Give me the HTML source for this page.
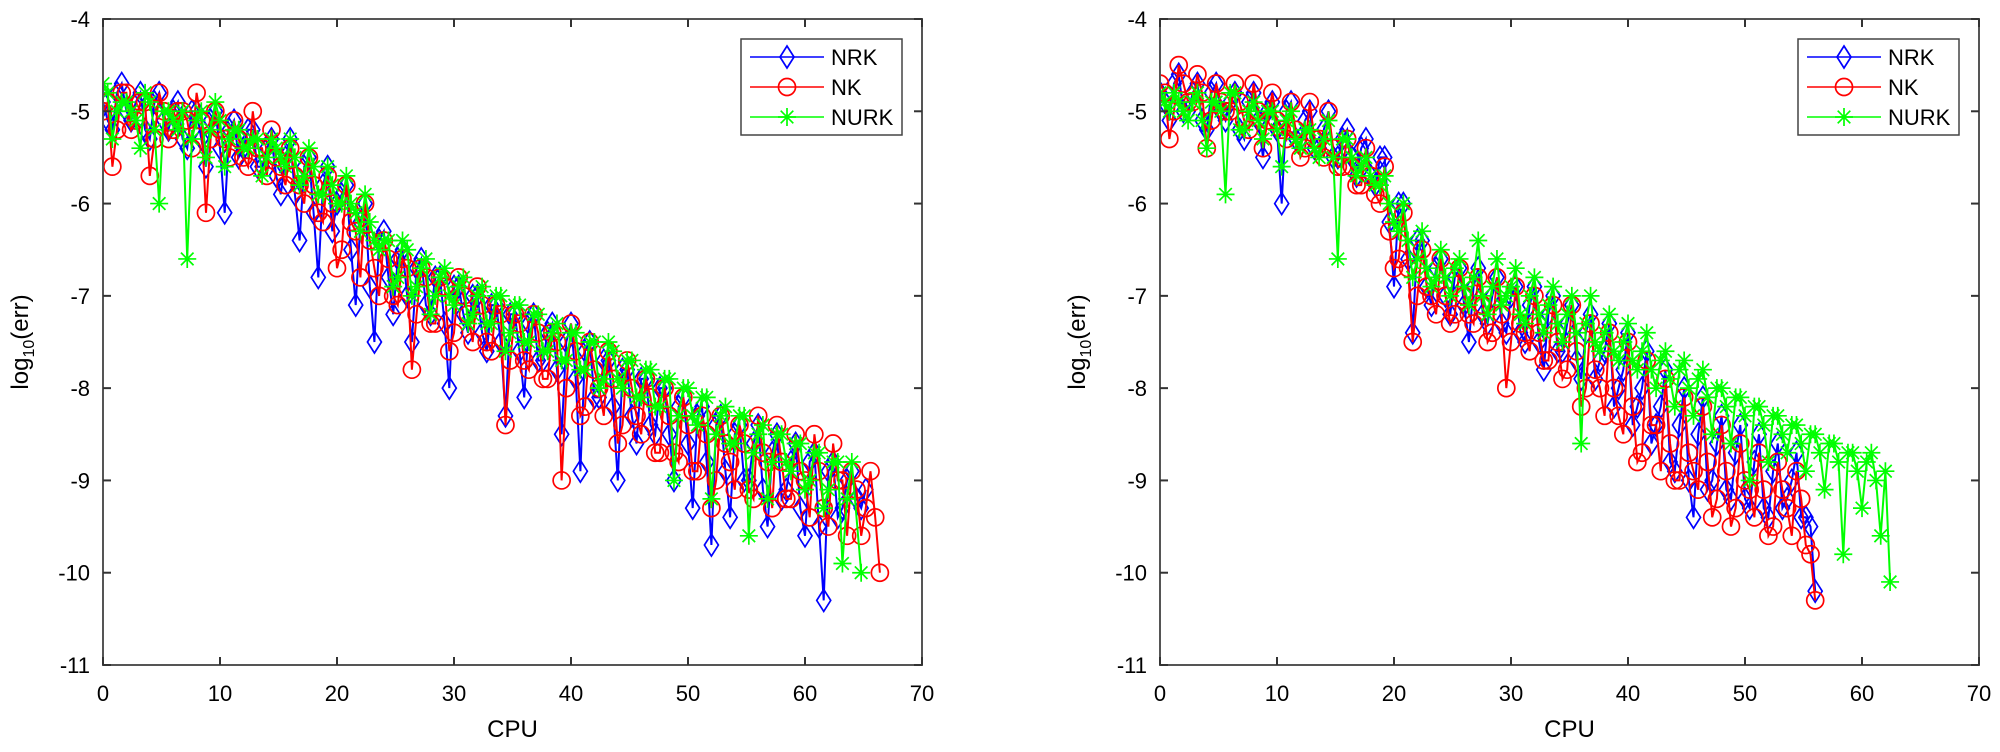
<!DOCTYPE html>
<html><head><meta charset="utf-8"><style>
body{margin:0;background:#fff;}
svg{display:block;font-family:"Liberation Sans",Arial,sans-serif;}
</style></head><body>
<svg id="c" width="2000" height="752"></svg>
<script>
const cpuL=[0,0.8,1.6,2.4,3.2,4,4.8,5.6,6.4,7.2,8,8.8,9.6,10.4,11.2,12,12.8,13.6,14.4,15.2,16,16.8,17.6,18.4,19.2,20,20.8,21.6,22.4,23.2,24,24.8,25.6,26.4,27.2,28,28.8,29.6,30.4,31.2,32,32.8,33.6,34.4,35.2,36,36.8,37.6,38.4,39.2,40,40.8,41.6,42.4,43.2,44,44.8,45.6,46.4,47.2,48,48.8,49.6,50.4,51.2,52,52.8,53.6,54.4,55.2,56,56.8,57.6,58.4,59.2,60,60.8,61.6,62.4,63.2,64,64.8,65.6,66.4];
const cpuL2=[0.4,1.2,2,2.8,3.6,4.4,5.2,6,6.8,7.6,8.4,9.2,10,10.8,11.6,12.4,13.2,14,14.8,15.6,16.4,17.2,18,18.8,19.6,20.4,21.2,22,22.8,23.6,24.4,25.2,26,26.8,27.6,28.4,29.2,30,30.8,31.6,32.4,33.2,34,34.8,35.6,36.4,37.2,38,38.8,39.6,40.4,41.2,42,42.8,43.6,44.4,45.2,46,46.8,47.6,48.4,49.2,50,50.8,51.6,52.4,53.2,54,54.8,55.6,56.4,57.2,58,58.8,59.6,60.4,61.2,62,62.8,63.6,64.4,65.2,66];
const nrkL=[-4.9,-5.2,-4.7,-5.1,-4.8,-5.3,-4.8,-5.2,-4.9,-5.4, -5.0,-5.6,-5.0,-6.1,-5.1,-5.4,-5.2,-5.6,-5.3,-5.9, -5.3,-6.4,-5.5,-6.8,-5.6,-6.0,-5.8,-7.1,-6.0,-7.5, -6.3,-7.2,-6.5,-7.5,-6.6,-7.2,-6.8,-8.0,-6.9,-7.4, -7.0,-7.6,-7.1,-8.3,-7.2,-8.1,-7.2,-7.7,-7.3,-8.5, -7.3,-8.9,-7.5,-8.1,-7.7,-9.0,-7.8,-8.6,-7.9,-8.5, -8.0,-9.0,-8.1,-9.3,-8.2,-9.7,-8.3,-9.4,-8.4,-9.0, -8.4,-9.5,-8.5,-9.1,-8.6,-9.6,-8.7,-10.3,-8.8,-9.3, -8.9,-9.3];
const nrkL2=[-5.1,-4.8,-5.0,-4.9,-5.2,-4.9,-5.1,-5.0,-5.3,-5.0, -5.3,-5.1,-5.4,-5.2,-5.5,-5.2,-5.6,-5.4,-5.7,-5.5, -5.9,-5.6,-6.1,-5.8,-6.3,-5.9,-6.5,-6.2,-6.9,-6.4, -6.8,-6.6,-7.0,-6.7,-7.1,-6.8,-7.3,-6.9,-7.2,-7.0, -7.4,-7.1,-7.5,-7.2,-7.6,-7.3,-7.7,-7.4,-7.8,-7.5, -7.9,-7.6,-8.1,-7.7,-8.2,-7.8,-8.3,-7.9,-8.4,-8.0, -8.5,-8.2,-8.6,-8.3,-8.8,-8.4,-8.9,-8.5,-9.0,-8.6, -9.1,-8.7,-9.2,-8.8,-9.3,-8.8,-9.5,-8.9,-9.4,-9.0, -9.2,-9.1];
const nkL=[-5.0,-5.6,-4.8,-5.2,-4.9,-5.7,-4.8,-5.3,-5.0,-5.1, -4.8,-6.1,-5.0,-5.3,-5.1,-5.5,-5.0,-5.4,-5.2,-5.6, -5.4,-5.8,-5.5,-6.1,-5.7,-6.7,-5.8,-6.3,-6.0,-6.7, -6.4,-7.0,-6.6,-7.8,-6.7,-7.3,-6.8,-7.6,-6.8,-7.2, -6.9,-7.5,-7.1,-8.4,-7.2,-7.7,-7.2,-7.9,-7.4,-9.0, -7.3,-8.3,-7.5,-8.0,-7.6,-8.6,-7.7,-8.3,-7.9,-8.7, -8.0,-8.7,-8.1,-8.9,-8.3,-9.3,-8.3,-8.8,-8.4,-9.1, -8.3,-8.8,-8.4,-9.2,-8.5,-9.0,-8.5,-9.3,-8.6,-9.0, -8.9,-9.6,-8.9,-10.0];
const nkL2=[-4.9,-5.2,-4.8,-5.1,-4.9,-5.3,-5.0,-5.2,-5.0,-5.4, -5.1,-5.3,-5.2,-5.5,-5.3,-5.6,-5.4,-5.7,-5.5,-5.8, -5.7,-6.0,-5.8,-6.2,-6.0,-6.5,-6.2,-6.8,-6.4,-7.0, -6.6,-7.1,-6.7,-7.2,-6.8,-7.3,-6.9,-7.4,-7.0,-7.5, -7.1,-7.6,-7.2,-7.7,-7.3,-7.8,-7.4,-7.9,-7.5,-8.0, -7.6,-8.2,-7.8,-8.3,-7.9,-8.4,-8.0,-8.5,-8.1,-8.7, -8.3,-8.8,-8.4,-8.9,-8.5,-9.0,-8.6,-9.1,-8.6,-9.2, -8.7,-9.3,-8.8,-9.2,-8.9,-9.4,-8.9,-9.5,-9.0,-9.6, -9.1,-9.3,-9.4];
const nurkL=[-4.7,-5.3,-4.9,-5.0,-5.4,-4.9,-6.0,-5.0,-5.2,-6.6, -5.1,-5.5,-4.9,-5.6,-5.2,-5.4,-5.3,-5.7,-5.3,-5.5, -5.3,-5.8,-5.4,-5.9,-5.6,-6.0,-5.7,-6.1,-5.9,-6.4, -6.4,-6.9,-6.4,-7.0,-6.7,-7.2,-6.8,-7.0,-6.9,-7.3, -7.0,-7.3,-7.0,-7.6,-7.1,-7.5,-7.2,-7.6,-7.4,-7.7, -7.4,-7.8,-7.5,-8.0,-7.5,-7.9,-7.7,-8.1,-7.8,-8.2, -7.9,-9.0,-8.0,-8.3,-8.1,-9.2,-8.3,-8.6,-8.3,-9.6, -8.5,-9.2,-8.5,-8.8,-8.6,-9.1,-8.7,-9.3,-8.8,-9.9, -8.8,-10.0];
const nurkL2=[-4.8,-5.0,-4.9,-5.1,-4.8,-5.2,-5.0,-5.1,-5.0,-5.3, -5.0,-5.2,-5.1,-5.3,-5.2,-5.4,-5.3,-5.5,-5.4,-5.6, -5.5,-5.7,-5.6,-5.9,-5.8,-6.0,-6.0,-6.3,-6.2,-6.5, -6.4,-6.8,-6.5,-6.9,-6.6,-7.0,-6.7,-7.1,-6.8,-7.2, -6.9,-7.3,-7.0,-7.4,-7.1,-7.5,-7.2,-7.6,-7.3,-7.7, -7.4,-7.8,-7.5,-7.9,-7.6,-8.0,-7.7,-8.1,-7.8,-8.2, -7.9,-8.3,-8.0,-8.4,-8.1,-8.5,-8.2,-8.6,-8.3,-8.7, -8.4,-8.8,-8.5,-8.9,-8.6,-9.0,-8.7,-9.1,-8.8,-9.2];
const cpuR=[0,0.8,1.6,2.4,3.2,4,4.8,5.6,6.4,7.2,8,8.8,9.6,10.4,11.2,12,12.8,13.6,14.4,15.2,16,16.8,17.6,18.4,19.2,20,20.8,21.6,22.4,23.2,24,24.8,25.6,26.4,27.2,28,28.8,29.6,30.4,31.2,32,32.8,33.6,34.4,35.2,36,36.8,37.6,38.4,39.2,40,40.8,41.6,42.4,43.2,44,44.8,45.6,46.4,47.2,48,48.8,49.6,50.4,51.2,52,52.8,53.6,54.4,55.2,56,56.8,57.6,58.4,59.2,60,60.8,61.6,62.4];
const cpuR2=[0.4,1.2,2,2.8,3.6,4.4,5.2,6,6.8,7.6,8.4,9.2,10,10.8,11.6,12.4,13.2,14,14.8,15.6,16.4,17.2,18,18.8,19.6,20.4,21.2,22,22.8,23.6,24.4,25.2,26,26.8,27.6,28.4,29.2,30,30.8,31.6,32.4,33.2,34,34.8,35.6,36.4,37.2,38,38.8,39.6,40.4,41.2,42,42.8,43.6,44.4,45.2,46,46.8,47.6,48.4,49.2,50,50.8,51.6,52.4,53.2,54,54.8,55.6,56.4,57.2,58,58.8,59.6,60.4,61.2,62];
const nrkR=[-4.8,-5.1,-4.6,-5.0,-4.7,-5.2,-4.7,-5.1,-4.8,-5.3, -4.8,-5.5,-4.9,-6.0,-4.9,-5.3,-5.0,-5.4,-5.0,-5.5, -5.2,-5.7,-5.3,-5.8,-5.5,-6.9,-6.0,-7.4,-6.4,-7.1, -6.6,-7.2,-6.7,-7.5,-6.7,-7.3,-6.8,-7.4,-6.9,-7.5, -6.9,-7.8,-7.0,-7.6,-7.1,-7.9,-7.2,-7.7,-7.3,-8.0, -7.4,-8.2,-7.6,-8.4,-7.8,-8.9,-8.0,-9.4,-8.1,-9.0, -8.3,-9.2,-8.4,-9.3,-8.5,-9.4,-8.6,-9.2,-8.7,-9.4, -10.2];
const nrkR2=[-4.9,-4.7,-5.0,-4.8,-5.1,-4.8,-5.0,-4.9,-5.2,-4.9, -5.1,-5.0,-5.2,-5.0,-5.3,-5.1,-5.4,-5.2,-5.5,-5.3, -5.5,-5.4,-5.7,-5.5,-6.2,-6.0,-6.6,-6.4,-6.9,-6.7, -7.0,-6.8,-7.1,-6.9,-7.2,-7.0,-7.3,-7.0,-7.4,-7.1, -7.5,-7.2,-7.6,-7.3,-7.7,-7.4,-7.9,-7.6,-8.2,-7.8, -8.4,-8.0,-8.6,-8.2,-8.8,-8.4,-9.0,-8.5,-9.1,-8.6, -9.1,-8.7,-9.2,-8.8,-9.3,-8.9,-9.3,-9.0,-9.4,-9.5];
const nkR=[-4.7,-5.3,-4.5,-4.9,-4.6,-5.4,-4.7,-5.0,-4.7,-5.1, -4.7,-5.4,-4.8,-5.2,-4.9,-5.5,-4.9,-5.3,-5.0,-5.6, -5.3,-5.8,-5.4,-5.9,-5.6,-6.7,-6.1,-7.5,-6.5,-7.0, -6.6,-7.3,-6.7,-7.2,-6.8,-7.5,-6.8,-8.0,-6.9,-7.4, -7.0,-7.7,-7.1,-7.9,-7.1,-8.2,-7.3,-8.0,-7.4,-8.3, -7.5,-8.8,-7.7,-8.4,-7.9,-9.0,-8.1,-8.9,-8.2,-9.4, -8.4,-9.5,-8.6,-9.1,-8.7,-9.6,-8.8,-9.3,-8.9,-9.7, -10.3];
const nkR2=[-4.8,-5.0,-4.7,-4.9,-4.8,-5.1,-4.9,-5.0,-4.9,-5.2, -5.0,-5.1,-5.1,-5.3,-5.2,-5.4,-5.3,-5.5,-5.4,-5.6, -5.6,-5.8,-5.7,-6.0,-6.3,-6.6,-6.7,-7.0,-6.9,-7.2, -7.0,-7.2,-7.0,-7.3,-7.1,-7.4,-7.2,-7.5,-7.3,-7.6, -7.4,-7.7,-7.5,-7.8,-7.6,-8.0,-7.8,-8.3,-8.0,-8.5, -8.2,-8.7,-8.4,-8.9,-8.6,-9.0,-8.7,-9.1,-8.8,-9.2, -8.9,-9.3,-9.0,-9.4,-9.1,-9.5,-9.1,-9.6,-9.2,-9.8];
const nurkR=[-4.8,-5.0,-4.9,-5.1,-4.8,-5.4,-4.9,-5.9,-4.8,-5.2, -4.9,-5.3,-5.0,-5.6,-5.0,-5.4,-5.2,-5.5,-5.1,-6.6, -5.3,-5.7,-5.5,-5.8,-5.7,-6.2,-6.0,-6.8,-6.3,-6.9, -6.5,-7.0,-6.6,-7.1,-6.4,-7.2,-6.6,-7.0,-6.7,-7.3, -6.8,-7.4,-6.9,-7.5,-7.0,-8.6,-7.0,-7.6,-7.2,-7.7, -7.3,-7.8,-7.4,-8.0,-7.6,-8.2,-7.7,-8.3,-7.8,-8.5, -8.0,-8.6,-8.1,-9.0,-8.2,-8.8,-8.3,-8.7,-8.4,-8.9, -8.5,-9.1,-8.6,-9.8,-8.7,-9.3,-8.7,-9.6,-10.1];
const nurkR2=[-4.9,-4.8,-5.0,-4.9,-5.1,-4.9,-5.0,-4.8,-5.2,-5.0, -5.1,-5.0,-5.2,-5.1,-5.3,-5.2,-5.4,-5.3,-5.5,-5.3, -5.5,-5.6,-5.7,-5.8,-6.0,-6.3,-6.4,-6.6,-6.7,-6.8, -6.8,-6.7,-6.9,-6.8,-7.0,-6.9,-7.1,-6.9,-7.2,-7.0, -7.2,-7.1,-7.3,-7.2,-7.4,-7.3,-7.5,-7.4,-7.6,-7.5, -7.7,-7.6,-7.8,-7.7,-7.9,-7.8,-8.0,-7.9,-8.1,-8.0, -8.2,-8.1,-8.3,-8.2,-8.4,-8.3,-8.5,-8.4,-8.6,-8.5, -8.7,-8.6,-8.8,-8.7,-8.9,-8.8,-9.0,-8.9];
const xTicks=[0,10,20,30,40,50,60,70];
const yTicks=[-4,-5,-6,-7,-8,-9,-10,-11];
const seriesNames=["NRK","NK","NURK"];

const NS="http://www.w3.org/2000/svg";
const svg=document.getElementById('c');
function mk(tag,attrs,parent){const e=document.createElementNS(NS,tag);for(const k in attrs)e.setAttribute(k,attrs[k]);(parent||svg).appendChild(e);return e;}
const colors=["#0000ff","#ff0000","#00ff00"];

function marker(g,kind,cx,cy,col){
  let m;
  if(kind===0){m=mk('polygon',{points:`${cx},${cy-11} ${cx+7},${cy} ${cx},${cy+11} ${cx-7},${cy}`,fill:'none',stroke:col,'stroke-width':1.7},g);}
  else if(kind===1){m=mk('circle',{cx:cx,cy:cy,r:8.5,fill:'none',stroke:col,'stroke-width':1.7},g);}
  else{const r=9;m=mk('path',{d:`M${cx-r},${cy}H${cx+r}M${cx},${cy-r}V${cy+r}M${cx-r*0.7},${cy-r*0.7}L${cx+r*0.7},${cy+r*0.7}M${cx-r*0.7},${cy+r*0.7}L${cx+r*0.7},${cy-r*0.7}`,stroke:col,'stroke-width':1.7,fill:'none'},g);}
  return m;
}

function merge(xa,va,xb,vb){
  const pts=[];
  va.forEach((v,i)=>pts.push([xa[i],v]));
  vb.forEach((v,i)=>pts.push([xb[i],v]));
  pts.sort((a,b)=>a[0]-b[0]);
  return pts;
}

function panel(id,left,sets){
  const L=left,R=left+819,T=19,B=665;
  const sx=v=>L+(v-0)/70*(R-L);
  const sy=v=>T+(-4-v)/7*(B-T);
  const g=mk('g',{});
  
  
  const clipId='clip'+id;
  const cp=mk('clipPath',{id:clipId},g);mk('rect',{x:L,y:T,width:R-L,height:B-T},cp);
  const plot=mk('g',{'clip-path':`url(#${clipId})`},g);
  sets.forEach((pts,si)=>{
    const sg=mk('g',{},plot);
    
    
    let d='';
    pts.forEach((p,i)=>{d+=(i?'L':'M')+sx(p[0]).toFixed(1)+','+sy(p[1]).toFixed(1);});
    const ln=mk('path',{d:d,fill:'none',stroke:colors[si],'stroke-width':2},sg);
    
    
    pts.forEach(p=>{
      const m=marker(sg,si,sx(p[0]),sy(p[1]),colors[si]);
      
      
    });
  });
  const ax=mk('rect',{x:L,y:T,width:R-L,height:B-T,fill:'none',stroke:'#555','stroke-width':2},g);
  
  
  xTicks.forEach(t=>{
    const x=sx(t);
    mk('line',{x1:x,x2:x,y1:B,y2:B-8,stroke:'#333','stroke-width':2},g);
    mk('line',{x1:x,x2:x,y1:T,y2:T+8,stroke:'#333','stroke-width':2},g);
    const tx=mk('text',{x:x,y:B+36,'font-size':22,'text-anchor':'middle',fill:'#000'},g);
    tx.textContent=t;
    
    
  });
  yTicks.forEach(t=>{
    const y=sy(t);
    mk('line',{x1:L,x2:L+8,y1:y,y2:y,stroke:'#333','stroke-width':2},g);
    mk('line',{x1:R,x2:R-8,y1:y,y2:y,stroke:'#333','stroke-width':2},g);
    const tx=mk('text',{x:L-13,y:y+8,'font-size':22,'text-anchor':'end',fill:'#000'},g);
    tx.textContent=t;
    
    
  });
  const xt=mk('text',{x:(L+R)/2,y:737,'font-size':24,'text-anchor':'middle',fill:'#000'},g);
  xt.textContent='CPU';
  
  
  const yt=mk('text',{x:0,y:0,'font-size':24,'text-anchor':'middle',fill:'#000',transform:`translate(${L-75},${(T+B)/2}) rotate(-90)`},g);
  yt.innerHTML='log<tspan font-size="16" dy="6">10</tspan><tspan dy="-6">(err)</tspan>';
  
  
  const lg=mk('g',{},g);
  
  
  const lx=L+638;
  mk('rect',{x:lx,y:39,width:161,height:96,fill:'#fff',stroke:'#444','stroke-width':1.5},lg);
  seriesNames.forEach((n,i)=>{
    const y=57+i*30;
    const e=mk('g',{},lg);
    
    
    mk('line',{x1:lx+9,x2:lx+83,y1:y,y2:y,stroke:colors[i],'stroke-width':1.5},e);
    marker(e,i,lx+46,y,colors[i]);
    const t=mk('text',{x:lx+90,y:y+8,'font-size':22,fill:'#000'},e);
    t.textContent=n;
  });
}
panel('left-panel',103,[merge(cpuL,nrkL,cpuL2,nrkL2),merge(cpuL,nkL,cpuL2,nkL2),merge(cpuL,nurkL,cpuL2,nurkL2)]);
panel('right-panel',1160,[merge(cpuR,nrkR,cpuR2,nrkR2),merge(cpuR,nkR,cpuR2,nkR2),merge(cpuR,nurkR,cpuR2,nurkR2)]);
</script>
</body></html>
